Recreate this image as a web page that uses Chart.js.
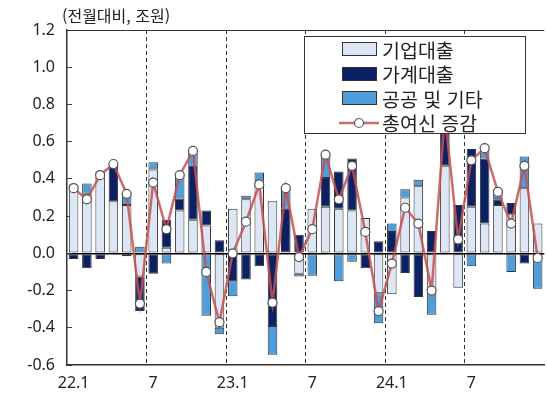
<!DOCTYPE html>
<html lang="ko">
<head>
<meta charset="utf-8">
<script src="https://cdn.jsdelivr.net/npm/chart.js@4/dist/chart.umd.min.js"></script>
<style>
  html, body { margin: 0; padding: 0; background: #fff; }
  #wrap { position: relative; width: 547px; height: 405px; overflow: hidden; }
  #chart { position: absolute; left: 0; top: 0; }
  .title { position: absolute; left: 62px; top: 5px; font: 16px 'Noto Sans CJK KR', sans-serif; color: #222; line-height: 20px; }
  .legend { position: absolute; left: 304px; top: 36px; width: 222px; height: 98px; border: 1px solid #333; background: #fff; box-sizing: border-box; padding-top: 0px; }
  .legend .row { height: 24.5px; display: flex; align-items: center; font: 19.5px 'Noto Sans CJK KR', sans-serif; color: #222; }
  .legend .sym { width: 40px; margin-left: 34px; margin-right: 3px; display: flex; justify-content: center; }
  .legend .box { width: 35px; height: 14px; border: 1px solid #333; box-sizing: border-box; }
</style>
</head>
<body>
<div id="wrap">
  <canvas id="chart" width="550" height="405"></canvas>
  <div class="title">(전월대비, 조원)</div>
  <div class="legend" id="legend"></div>
</div>
<script>
const months = [
  '22.1', '22.2', '22.3', '22.4', '22.5', '22.6', '22.7', '22.8', '22.9', '22.10', '22.11', '22.12',
  '23.1', '23.2', '23.3', '23.4', '23.5', '23.6', '23.7', '23.8', '23.9', '23.10', '23.11', '23.12',
  '24.1', '24.2', '24.3', '24.4', '24.5', '24.6', '24.7', '24.8', '24.9', '24.10', '24.11', '24.12'
];
const xTickLabels = ['22.1', '7', '23.1', '7', '24.1', '7'];
const yTicks = [-0.6, -0.4, -0.2, 0.0, 0.2, 0.4, 0.6, 0.8, 1.0, 1.2];

const corporate = [
  0.37, 0.32, 0.44, 0.28, 0.26, -0.125, 0.45, 0.03, 0.23, 0.18, 0.15, -0.40,
  0.24, 0.29, 0.39, 0.28, 0.00, -0.11, 0.24, 0.25, 0.24, 0.23, 0.19, -0.215,
  -0.22, 0.30, 0.36, -0.22, 0.47, -0.185, 0.25, 0.16, 0.26, 0.21, 0.35, 0.16
];
const household = [
  -0.03, -0.08, -0.03, 0.19, -0.015, -0.185, -0.11, 0.15, 0.065, 0.29, 0.08, 0.07,
  -0.15, -0.14, -0.07, -0.39, 0.24, 0.10, 0.00, 0.155, 0.20, 0.28, -0.08, 0.065,
  0.115, -0.105, -0.235, 0.12, 0.27, 0.26, 0.31, 0.35, 0.03, 0.06, -0.055, 0.00
];
const publicEtc = [
  0.00, 0.055, 0.00, 0.01, 0.07, 0.035, 0.04, -0.055, 0.14, 0.07, -0.335, -0.035,
  -0.08, 0.02, 0.045, -0.155, 0.11, -0.015, -0.12, 0.125, -0.15, -0.045, 0.00, -0.16,
  0.045, 0.045, 0.035, -0.11, 0.00, 0.00, -0.07, 0.06, 0.055, -0.10, 0.17, -0.19
];
const totalCredit = [
  0.35, 0.29, 0.42, 0.48, 0.32, -0.27, 0.38, 0.13, 0.42, 0.55, -0.10, -0.37,
  0.00, 0.17, 0.37, -0.265, 0.35, -0.02, 0.13, 0.53, 0.29, 0.47, 0.115, -0.31,
  -0.055, 0.245, 0.16, -0.20, 0.74, 0.075, 0.50, 0.565, 0.33, 0.16, 0.47, -0.025
];

const numFont = { family: "'Noto Sans', 'Liberation Sans', sans-serif", size: 16 };

const barStyle = (label, data, color) => ({
  type: 'bar',
  label,
  data,
  backgroundColor: color,
  borderColor: '#333',
  borderWidth: 1,
  borderSkipped: false,
  barPercentage: 0.72,
  categoryPercentage: 1,
  stack: 'loans',
  order: 1,
});

// top border of the plot area
const frameTop = {
  id: 'frameTop',
  afterDraw(chart) {
    const { ctx, chartArea } = chart;
    ctx.save();
    ctx.strokeStyle = '#333';
    ctx.lineWidth = 1;
    ctx.beginPath();
    ctx.moveTo(chartArea.left, chartArea.top + 0.5);
    ctx.lineTo(chartArea.right, chartArea.top + 0.5);
    ctx.stroke();
    ctx.restore();
  },
};

const chart = new Chart(document.getElementById('chart'), {
  data: {
    labels: months,
    datasets: [
      barStyle('기업대출', corporate, '#dce6f4'),
      barStyle('가계대출', household, '#0b2163'),
      barStyle('공공 및 기타', publicEtc, '#4f9edb'),
      {
        type: 'line',
        label: '총여신 증감',
        data: totalCredit,
        borderColor: 'rgba(196, 80, 80, 0.85)',
        borderWidth: 2.5,
        pointRadius: 4.5,
        pointBackgroundColor: '#fff',
        pointBorderColor: '#555',
        pointBorderWidth: 1.2,
        tension: 0,
        stack: 'total',
        order: 0,
      },
    ],
  },
  options: {
    responsive: false,
    animation: false,
    layout: { padding: { top: 30, right: 0, bottom: 0, left: 0 } },
    plugins: { legend: { display: false }, tooltip: { enabled: false } },
    scales: {
      x: {
        stacked: true,
        offset: true,
        afterFit: (scale) => { scale.height = 40; },
        grid: {
          offset: true,
          drawTicks: false,
          color: (ctx) => (ctx.index > 0 && ctx.index % 6 === 0 ? '#333' : 'transparent'),
        },
        border: { display: true, color: '#333', width: 1.5, dash: [4, 3] },
        ticks: {
          autoSkip: false,
          maxRotation: 0,
          padding: 9,
          color: '#222',
          font: numFont,
          callback: (v, i) => (i % 6 === 0 ? xTickLabels[i / 6] : ''),
        },
      },
      y: {
        stacked: true,
        min: -0.6,
        max: 1.2,
        afterFit: (scale) => { scale.width = 67; },
        afterBuildTicks: (scale) => { scale.ticks = yTicks.map((value) => ({ value })); },
        grid: {
          drawTicks: true,
          tickLength: -5,
          tickColor: '#444',
          tickWidth: 1,
          color: (ctx) => (ctx.tick && Math.abs(ctx.tick.value) < 1e-9 ? '#000' : 'transparent'),
          lineWidth: (ctx) => (ctx.tick && Math.abs(ctx.tick.value) < 1e-9 ? 1.6 : 1),
        },
        border: { display: true, color: '#333', width: 1.5 },
        ticks: {
          padding: 17,
          color: '#222',
          font: numFont,
          callback: (v) => (Math.abs(v) < 1e-9 ? '0.0' : Number(v).toFixed(1)),
        },
      },
    },
  },
  plugins: [frameTop],
});

// legend drawn as an HTML box over the plot, like the original
const legendEl = document.getElementById('legend');
chart.data.datasets.forEach((ds) => {
  const row = document.createElement('div');
  row.className = 'row';
  const sym = document.createElement('span');
  sym.className = 'sym';
  if (ds.type === 'bar') {
    const box = document.createElement('span');
    box.className = 'box';
    box.style.background = ds.backgroundColor;
    sym.appendChild(box);
  } else {
    sym.innerHTML = '<svg width="40" height="12"><line x1="0" y1="6" x2="40" y2="6" stroke="' + ds.borderColor +
      '" stroke-width="2.5"/><circle cx="20" cy="6" r="4.5" fill="#fff" stroke="#555" stroke-width="1.2"/></svg>';
  }
  const text = document.createElement('span');
  text.textContent = ds.label;
  row.appendChild(sym);
  row.appendChild(text);
  legendEl.appendChild(row);
});
</script>
</body>
</html>
